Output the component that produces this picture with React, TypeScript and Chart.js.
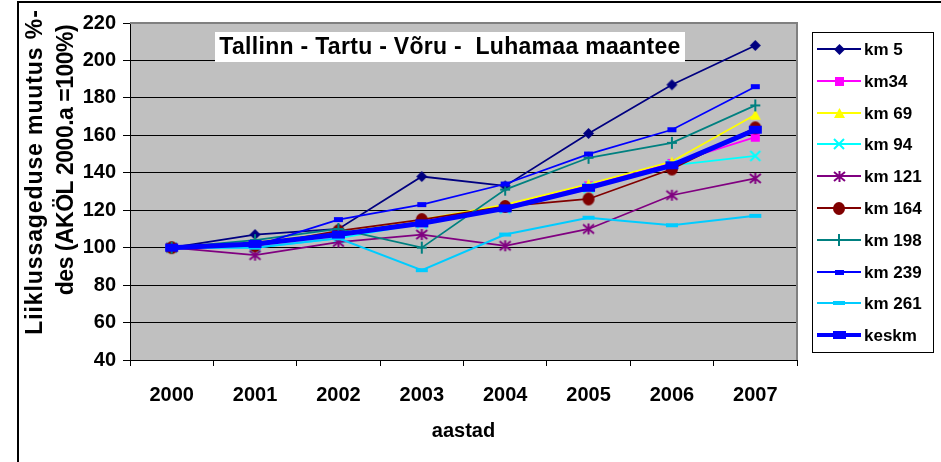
import React, { useEffect, useRef } from 'react';
import { Chart, registerables } from 'chart.js';

Chart.register(...registerables);

// ---- data ----
const years = ['2000', '2001', '2002', '2003', '2004', '2005', '2006', '2007'];
const seriesLabels = ['km 5', 'km34', 'km 69', 'km 94', 'km 121', 'km 164', 'km 198', 'km 239', 'km 261', 'keskm'];
const km5 = [100, 107, 110, 138, 133, 161, 187, 208];
const km34 = [100, 102, 108, 114, 122, 133, 145, 159];
const km69 = [100, 103, 108, 115, 123, 134, 146, 171];
const km94 = [100, 100, 105, 113, 121, 132, 144, 149];
const km121 = [100, 96, 103, 107, 101, 110, 128, 137];
const km164 = [100, 101, 109, 115, 122, 126, 142, 164];
const km198 = [100, 104, 110, 100, 131, 148, 156, 176];
const km239 = [100, 101, 115, 123, 134, 150, 163, 186];
const km261 = [100, 100, 105, 88, 107, 116, 112, 117];
const keskm = [100, 102, 107, 113, 121, 132, 144, 163];
const yMin = 40;
const yMax = 220;
const yStep = 20;

const chartTitle = 'Tallinn - Tartu - Võru -  Luhamaa maantee';
const yTitleLines = ['Liiklussageduse muutus %-', 'des (AKÖL 2000.a =100%)'];
const xTitle = 'aastad';

// ---- styles ----
const FONT = '"Liberation Sans", Arial, sans-serif';
const seriesValues = [km5, km34, km69, km94, km121, km164, km198, km239, km261, keskm];
const seriesColors = ['#000080', '#FF00FF', '#FFFF00', '#00FFFF', '#800080', '#800000', '#008080', '#0000FF', '#00CCFF', '#0000FF'];
const lineWidths = [1.75, 1.75, 1.75, 1.75, 1.75, 1.75, 1.75, 1.75, 2, 5];
const markerSpecs: [string, number, number, number][] = [
  ['diamond', 11, 11, 0],
  ['square', 9, 9, 0],
  ['triangle', 11, 10, 0],
  ['x', 10, 10, 2],
  ['star', 11, 11, 2],
  ['circle', 12, 13, 0],
  ['plus', 10, 12, 2],
  ['dash', 9, 5, 0],
  ['dash', 12, 4, 0],
  ['dash', 13, 8, 0],
];

function makeMarker(kind: string, color: string, w: number, h: number, lw: number): HTMLCanvasElement {
  const pad = 2;
  const c = document.createElement('canvas');
  c.width = w + pad * 2;
  c.height = h + pad * 2;
  const ctx = c.getContext('2d')!;
  const cx = c.width / 2;
  const cy = c.height / 2;
  ctx.fillStyle = color;
  ctx.strokeStyle = color;
  ctx.lineWidth = lw || 1;
  ctx.beginPath();
  switch (kind) {
    case 'diamond':
      ctx.moveTo(cx, cy - h / 2);
      ctx.lineTo(cx + w / 2, cy);
      ctx.lineTo(cx, cy + h / 2);
      ctx.lineTo(cx - w / 2, cy);
      ctx.closePath();
      ctx.fill();
      break;
    case 'square':
    case 'dash':
      ctx.fillRect(cx - w / 2, cy - h / 2, w, h);
      break;
    case 'triangle':
      ctx.moveTo(cx, cy - h / 2);
      ctx.lineTo(cx + w / 2, cy + h / 2);
      ctx.lineTo(cx - w / 2, cy + h / 2);
      ctx.closePath();
      ctx.fill();
      break;
    case 'x':
      ctx.moveTo(cx - w / 2, cy - h / 2);
      ctx.lineTo(cx + w / 2, cy + h / 2);
      ctx.moveTo(cx + w / 2, cy - h / 2);
      ctx.lineTo(cx - w / 2, cy + h / 2);
      ctx.stroke();
      break;
    case 'star':
      ctx.moveTo(cx - w / 2, cy - h / 2 + 1);
      ctx.lineTo(cx + w / 2, cy + h / 2 - 1);
      ctx.moveTo(cx + w / 2, cy - h / 2 + 1);
      ctx.lineTo(cx - w / 2, cy + h / 2 - 1);
      ctx.moveTo(cx, cy - h / 2);
      ctx.lineTo(cx, cy + h / 2);
      ctx.stroke();
      break;
    case 'circle':
      ctx.ellipse(cx, cy, w / 2, h / 2, 0, 0, Math.PI * 2);
      ctx.fill();
      break;
    case 'plus':
      ctx.moveTo(cx, cy - h / 2);
      ctx.lineTo(cx, cy + h / 2);
      ctx.moveTo(cx - w / 2, cy);
      ctx.lineTo(cx + w / 2, cy);
      ctx.stroke();
      break;
  }
  return c;
}

const decorPlugin = {
  id: 'decor',
  beforeDraw(chart: any) {
    const { ctx, chartArea } = chart;
    ctx.save();
    ctx.fillStyle = '#ffffff';
    ctx.fillRect(0, 0, chart.width, chart.height);
    ctx.strokeStyle = '#000000';
    ctx.lineWidth = 2;
    ctx.strokeRect(18, 2, 1200, 1000);
    ctx.fillStyle = '#C0C0C0';
    ctx.fillRect(chartArea.left, chartArea.top, chartArea.right - chartArea.left, chartArea.bottom - chartArea.top);
    ctx.restore();
  },
  beforeDatasetsDraw(chart: any) {
    const { ctx, chartArea } = chart;
    ctx.save();
    ctx.strokeStyle = '#808080';
    ctx.lineWidth = 2;
    ctx.beginPath();
    ctx.moveTo(chartArea.left, chartArea.top);
    ctx.lineTo(chartArea.right, chartArea.top);
    ctx.lineTo(chartArea.right, chartArea.bottom);
    ctx.stroke();
    ctx.restore();
  },
  afterDraw(chart: any) {
    const { ctx } = chart;
    ctx.save();
    // title inside plot
    ctx.font = `bold 23px ${FONT}`;
    ctx.fillStyle = '#ffffff';
    ctx.fillRect(215, 32, 470, 30);
    ctx.fillStyle = '#000000';
    ctx.textAlign = 'center';
    ctx.textBaseline = 'middle';
    (ctx as any).letterSpacing = '0.3px';
    ctx.fillText(chartTitle, 450, 48);

    // y axis title (rotated)
    ctx.font = `bold 23px ${FONT}`;
    ctx.textBaseline = 'alphabetic';
    const yt = [
      { x: 42, y: 172, ls: '0.9px' },
      { x: 73, y: 160, ls: '-0.5px' },
    ];
    yTitleLines.forEach((t, i) => {
      ctx.save();
      (ctx as any).letterSpacing = yt[i].ls;
      ctx.translate(yt[i].x, yt[i].y);
      ctx.rotate(-Math.PI / 2);
      ctx.fillText(t, 0, 0);
      ctx.restore();
    });
    (ctx as any).letterSpacing = '0px';

    // legend
    ctx.strokeStyle = '#000000';
    ctx.lineWidth = 1;
    ctx.strokeRect(812.5, 32.5, 121, 320);
    ctx.font = `bold 17px ${FONT}`;
    ctx.textAlign = 'left';
    ctx.textBaseline = 'middle';
    chart.data.datasets.forEach((ds: any, i: number) => {
      const y = Math.round(49 + i * 31.8);
      ctx.strokeStyle = ds.borderColor;
      ctx.lineWidth = i === 9 ? 4 : 2;
      ctx.beginPath();
      ctx.moveTo(817, y);
      ctx.lineTo(861, y);
      ctx.stroke();
      const img = ds.pointStyle as HTMLCanvasElement;
      ctx.drawImage(img, Math.round(839 - img.width / 2), Math.round(y - img.height / 2));
      ctx.fillStyle = '#000000';
      ctx.fillText(ds.label, 864, y + 1);
    });
    ctx.restore();
  },
};

export default function App() {
  const ref = useRef<HTMLCanvasElement | null>(null);
  useEffect(() => {
    if (!ref.current) return;
    const n = seriesValues.length;
    const datasets = seriesValues.map((vals, i) => {
      const [kind, w, h, lw] = markerSpecs[i];
      return {
        label: seriesLabels[i],
        data: vals,
        borderColor: seriesColors[i],
        backgroundColor: seriesColors[i],
        borderWidth: lineWidths[i],
        pointStyle: makeMarker(kind, seriesColors[i], w, h, lw),
        pointRadius: 5,
        pointHoverRadius: 5,
        tension: 0,
        order: n - 1 - i,
      };
    });
    const chart = new Chart(ref.current, {
      type: 'line',
      data: { labels: years, datasets },
      options: {
        responsive: false,
        animation: false,
        events: [],
        layout: { padding: { top: 23, right: 144, left: 0, bottom: 0 } },
        plugins: {
          legend: { display: false },
          title: { display: false },
          tooltip: { enabled: false },
        },
        scales: {
          x: {
            type: 'category',
            offset: true,
            afterFit: (s: any) => {
              s.height = 102;
            },
            grid: {
              offset: true,
              drawOnChartArea: false,
              drawTicks: true,
              tickLength: 6,
              color: '#000000',
              tickColor: '#000000',
            },
            border: { color: '#000000', width: 1 },
            ticks: {
              color: '#000000',
              font: { family: FONT, size: 20, weight: 'bold' },
              padding: 17,
              maxRotation: 0,
            },
            title: {
              display: true,
              text: xTitle,
              color: '#000000',
              font: { family: FONT, size: 20, weight: 'bold' },
              padding: { top: 0, bottom: 19 },
            },
          },
          y: {
            min: yMin,
            max: yMax,
            afterFit: (s: any) => {
              s.width = 130;
            },
            grid: {
              color: (c: any) => (c.tick && c.tick.value === yMax ? '#808080' : '#000000'),
              tickColor: '#000000',
              lineWidth: 1,
              tickLength: 7,
            },
            border: { color: '#000000', width: 1 },
            ticks: {
              stepSize: yStep,
              color: '#000000',
              font: { family: FONT, size: 20, weight: 'bold' },
              padding: 7,
            },
          },
        },
      },
      plugins: [decorPlugin],
    } as any);
    return () => chart.destroy();
  }, []);
  return (
    <div style={{ position: 'fixed', left: 0, top: 0, width: 941, height: 462, background: '#fff' }}>
      <canvas ref={ref} width={941} height={462} style={{ display: 'block' }} />
    </div>
  );
}
